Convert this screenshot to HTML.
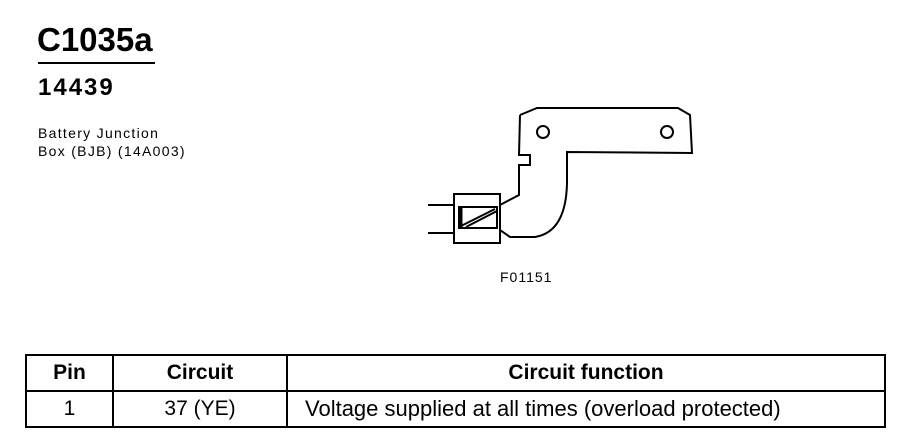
<!DOCTYPE html>
<html><head><style>
body{margin:0;width:904px;height:448px;background:#fff;position:relative;font-family:"Liberation Sans",Arial,sans-serif;color:#000;overflow:hidden}
.a{position:absolute;white-space:nowrap}
table{position:absolute;left:25px;top:354px;border-collapse:collapse;font-size:21px}
td{border:2px solid #000;text-align:center;height:34px;padding:0}
</style></head><body>
<div class="a" style="left:37px;top:21px;font-size:33px;font-weight:bold">C1035a</div>
<div class="a" style="left:38px;top:62px;width:117px;border-top:2px solid #000"></div>
<div class="a" style="left:38px;top:74px;font-size:24px;font-weight:bold;letter-spacing:2px">14439</div>
<div class="a" style="left:38px;top:124px;font-size:14px;line-height:18px;letter-spacing:1.3px">Battery Junction<br>Box (BJB) (14A003)</div>
<svg class="a" style="left:0;top:0" width="904" height="448">
<g fill="none" stroke="#000" stroke-width="2">
<path d="M520,115 L537,108 L678,108 L690,115 L692,153 L567,152 L567,183 Q566,232 535,237 L510,237 L500,230 M520,115 L519,155 L530,155 L530,165 L519,165 L519,195 L500,205"/>
<circle cx="543" cy="132" r="6"/><circle cx="667" cy="132" r="6"/>
<rect x="454" y="194" width="46" height="49"/>
<rect x="459" y="207" width="38" height="21"/>
<line x1="428" y1="205" x2="454" y2="205"/><line x1="428" y1="233" x2="454" y2="233"/>
<line x1="461" y1="226" x2="495" y2="209"/><line x1="466" y1="227" x2="497" y2="211"/>
<line x1="461" y1="207" x2="461" y2="228" stroke-width="3"/>
</g></svg>
<div class="a" style="left:500px;top:269px;font-size:14px;letter-spacing:1px">F01151</div>
<table>
<tr><td style="width:85px;font-weight:bold">Pin</td><td style="width:172px;font-weight:bold">Circuit</td><td style="width:596px;font-weight:bold">Circuit function</td></tr>
<tr><td>1</td><td>37 (YE)</td><td style="text-align:left;padding-left:17px;font-size:22px">Voltage supplied at all times (overload protected)</td></tr>
</table>
</body></html>
